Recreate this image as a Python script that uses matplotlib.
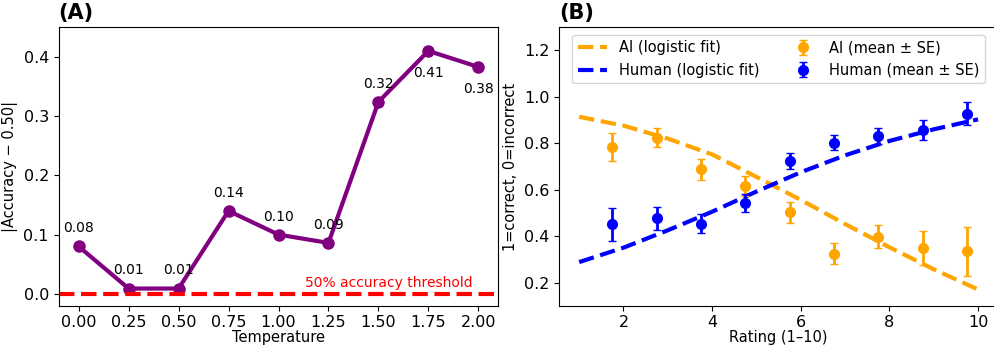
import numpy as np
import matplotlib
matplotlib.use('Agg')
import matplotlib.pyplot as plt

# panel A data
temperature = [0.00, 0.25, 0.50, 0.75, 1.00, 1.25, 1.50, 1.75, 2.00]
acc_dev = [0.080, 0.009, 0.009, 0.140, 0.100, 0.086, 0.324, 0.410, 0.383]
acc_labels = ['0.08', '0.01', '0.01', '0.14', '0.10', '0.09', '0.32', '0.41', '0.38']

# panel B data
fit_x = [1, 2, 3, 4, 5, 6, 7, 8, 9, 10]
ai_fit = [0.914, 0.876, 0.82, 0.752, 0.655, 0.556, 0.452, 0.352, 0.257, 0.17]
human_fit = [0.288, 0.35, 0.425, 0.505, 0.592, 0.675, 0.748, 0.81, 0.86, 0.903]

bin_x = [1.75, 2.75, 3.75, 4.75, 5.75, 6.75, 7.75, 8.75, 9.75]
ai_mean = [0.785, 0.824, 0.687, 0.615, 0.503, 0.325, 0.398, 0.349, 0.334]
ai_se = [0.061, 0.041, 0.047, 0.043, 0.045, 0.046, 0.050, 0.074, 0.105]
human_mean = [0.450, 0.476, 0.454, 0.542, 0.723, 0.802, 0.831, 0.857, 0.928]
human_se = [0.071, 0.049, 0.042, 0.040, 0.035, 0.032, 0.036, 0.045, 0.051]

plt.rcParams['font.size'] = 10.5
plt.rcParams['xtick.labelsize'] = 11.5
plt.rcParams['ytick.labelsize'] = 11.5

fig = plt.figure(figsize=(9.95, 3.49), dpi=100)
axA = fig.add_axes([0.059, 0.124, 0.4418, 0.798])
axB = fig.add_axes([0.562, 0.124, 0.441, 0.798])

# (A)
axA.plot(temperature, acc_dev, color='purple', lw=3, marker='o', ms=8)
axA.axhline(0, color='red', ls='--', lw=3)
for t, v, s in zip(temperature, acc_dev, acc_labels):
    off = -21 if v > 0.35 else 8
    axA.annotate(s, (t, v), textcoords='offset points', xytext=(0, off),
                 ha='center', va='bottom', fontsize=10)
axA.text(1.97, 0.006, '50% accuracy threshold', color='red', ha='right',
         va='bottom', fontsize=10)
axA.set_xticks(temperature)
axA.set_ylim(-0.02, 0.45)
axA.set_xlabel('Temperature', labelpad=0)
axA.set_ylabel('|Accuracy − 0.50|')
axA.set_title('(A)', loc='left', fontweight='bold', fontsize=15)

# (B)
axB.plot(fit_x, ai_fit, color='orange', ls='--', lw=3, label='AI (logistic fit)')
axB.plot(fit_x, human_fit, color='blue', ls='--', lw=3, label='Human (logistic fit)')
axB.errorbar(bin_x, ai_mean, yerr=ai_se, fmt='o', color='orange', ms=7,
             elinewidth=2, capsize=3, label='AI (mean ± SE)')
axB.errorbar(bin_x, human_mean, yerr=human_se, fmt='o', color='blue', ms=7,
             elinewidth=2, capsize=3, label='Human (mean ± SE)')
axB.set_ylim(0.1, 1.3)
axB.set_xlabel('Rating (1–10)', labelpad=0)
axB.set_ylabel('1=correct, 0=incorrect')
axB.set_title('(B)', loc='left', fontweight='bold', fontsize=15)
axB.legend(loc='upper center', ncol=2, fontsize=10.5)

fig.savefig('out.png', dpi=100)
